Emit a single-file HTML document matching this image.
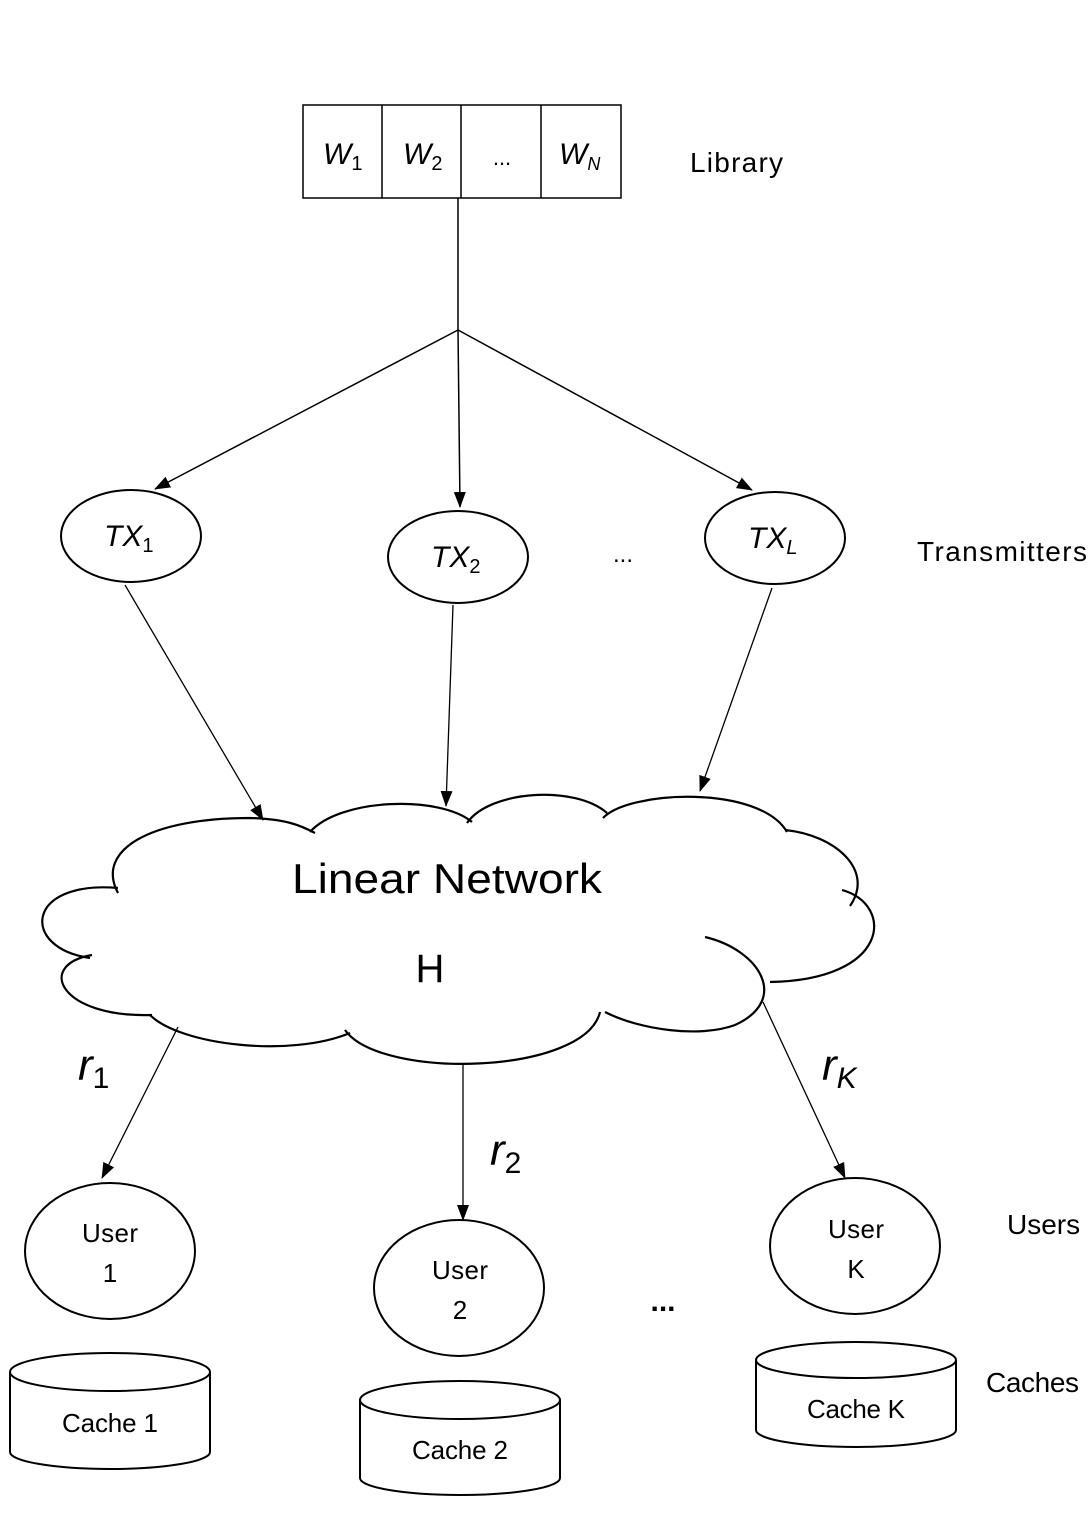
<!DOCTYPE html>
<html><head><meta charset="utf-8"><style>
html,body{margin:0;padding:0;background:#fff;}
svg{display:block;}
text{font-family:"Liberation Sans",sans-serif;fill:#000;}
.m{font-family:"Liberation Serif",serif;font-style:italic;}
</style></head><body>
<svg width="1088" height="1539" viewBox="0 0 1088 1539" xmlns="http://www.w3.org/2000/svg">
<defs>
<marker id="b" markerWidth="16" markerHeight="16" refX="15" refY="8" orient="auto" markerUnits="userSpaceOnUse" viewBox="0 0 16 16">
<path d="M0,2 L16,8 L0,14 z" fill="#000"/></marker>
</defs>
<g fill="none" stroke="#000" stroke-width="1.5">
<rect x="303" y="105" width="318" height="93"/>
<line x1="382" y1="105" x2="382" y2="198"/>
<line x1="461" y1="105" x2="461" y2="198"/>
<line x1="541" y1="105" x2="541" y2="198"/>
<line x1="458" y1="198" x2="458" y2="330"/>
<line x1="458" y1="330" x2="155" y2="489" marker-end="url(#b)"/>
<line x1="458" y1="330" x2="460" y2="507" marker-end="url(#b)"/>
<line x1="458" y1="330" x2="752" y2="490" marker-end="url(#b)"/>
</g>
<g fill="none" stroke="#000" stroke-width="2">
<ellipse cx="131" cy="536" rx="70" ry="46"/>
<ellipse cx="458" cy="557" rx="70" ry="46"/>
<ellipse cx="775" cy="538" rx="70" ry="46"/>
</g>
<g fill="none" stroke="#000" stroke-width="1.3">
<line x1="125" y1="585" x2="263" y2="820" marker-end="url(#b)"/>
<line x1="453" y1="605" x2="446" y2="806" marker-end="url(#b)"/>
<line x1="772" y1="588" x2="700" y2="791" marker-end="url(#b)"/>
<line x1="178" y1="1027" x2="102" y2="1178" marker-end="url(#b)"/>
<line x1="463" y1="1065" x2="463" y2="1220" marker-end="url(#b)"/>
<line x1="763" y1="1002" x2="845" y2="1178" marker-end="url(#b)"/>
</g>
<g fill="none" stroke="#000" stroke-width="2.2">
<path d="M118,893 C95,850 150,818 250,818 C285,819 300,825 315,833"/>
<path d="M310,832 C340,798 440,795 472,822"/>
<path d="M467,823 C490,790 575,785 607,813"/>
<path d="M603,818 C630,790 760,785 787,832"/>
<path d="M785,830 C835,835 875,870 850,906"/>
<path d="M842,890 C895,905 890,980 770,982"/>
<path d="M705,937 C760,950 790,1000 735,1025 C700,1038 640,1030 605,1012"/>
<path d="M600,1012 C585,1075 380,1080 345,1030"/>
<path d="M350,1033 C290,1058 180,1045 150,1015"/>
<path d="M152,1015 C60,1018 35,965 92,955"/>
<path d="M90,958 C20,948 25,880 118,888"/>
</g>
<text x="292" y="893" font-size="42" textLength="310" lengthAdjust="spacingAndGlyphs">Linear Network</text>
<text x="430" y="982" font-size="40" text-anchor="middle">H</text>
<g fill="none" stroke="#000" stroke-width="2">
<ellipse cx="110" cy="1251" rx="85" ry="68"/>
<ellipse cx="459" cy="1288" rx="85" ry="68"/>
<ellipse cx="855" cy="1246" rx="85" ry="68"/>
<path d="M10,1372 L10,1452 A100,17 0 0 0 210,1452 L210,1372"/>
<ellipse cx="110" cy="1372" rx="100" ry="19" fill="#fff"/>
<path d="M360,1400 L360,1478 A100,17 0 0 0 560,1478 L560,1400"/>
<ellipse cx="460" cy="1400" rx="100" ry="19"/>
<path d="M756,1360 L756,1430 A100,17 0 0 0 956,1430 L956,1360"/>
<ellipse cx="856" cy="1360" rx="100" ry="18"/>
</g>
<g font-size="26" text-anchor="middle">
<text x="110" y="1242" textLength="56">User</text><text x="110" y="1282">1</text>
<text x="460" y="1279" textLength="56">User</text><text x="460" y="1319">2</text>
<text x="856" y="1238" textLength="56">User</text><text x="856" y="1278">K</text>
<text x="110" y="1432" textLength="96">Cache 1</text>
<text x="460" y="1459" textLength="96">Cache 2</text>
<text x="856" y="1418" textLength="98">Cache K</text>
</g>
<g font-size="28">
<text x="690" y="172" textLength="93">Library</text>
<text x="917" y="561" textLength="170">Transmitters</text>
<text x="1007" y="1234">Users</text>
<text x="986" y="1392" textLength="93">Caches</text>
</g>
<text x="623" y="562" font-size="24" text-anchor="middle">...</text>
<text x="663" y="1311" font-size="30" text-anchor="middle" font-weight="bold">...</text>
<text x="502" y="165" font-size="22" text-anchor="middle">...</text>
<g class="m" font-size="30">
<text x="323" y="164">W<tspan font-size="20" dy="6" font-style="normal">1</tspan></text>
<text x="403" y="164">W<tspan font-size="20" dy="6" font-style="normal">2</tspan></text>
<text x="559" y="164">W<tspan font-size="18" dy="6">N</tspan></text>
<text x="104" y="546">TX<tspan font-size="20" dy="6" font-style="normal">1</tspan></text>
<text x="431" y="567">TX<tspan font-size="20" dy="6" font-style="normal">2</tspan></text>
<text x="748" y="548">TX<tspan font-size="20" dy="6">L</tspan></text>
</g>
<g class="m" font-size="44">
<text x="78" y="1080">r<tspan font-size="30" dy="8" font-style="normal">1</tspan></text>
<text x="490" y="1165">r<tspan font-size="30" dy="8" font-style="normal">2</tspan></text>
<text x="822" y="1080">r<tspan font-size="30" dy="8">K</tspan></text>
</g>
</svg>
</body></html>
